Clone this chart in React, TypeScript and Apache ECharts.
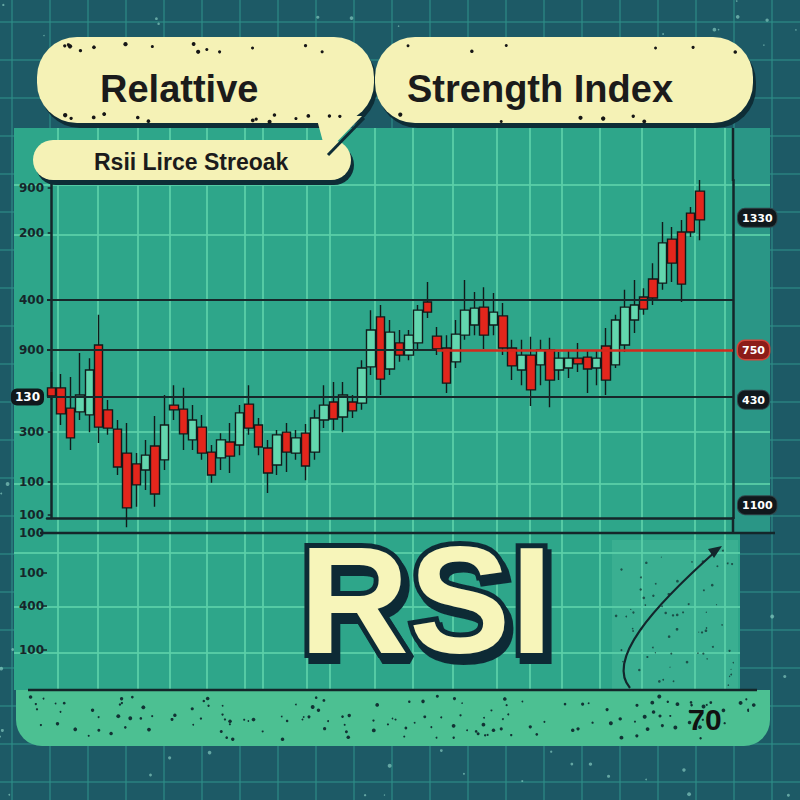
import React, { useEffect, useRef } from 'react';
import * as echarts from 'echarts';

// ---------- data (RSI-like scale, 0..100) ----------
const candleOpen = [
  38.5, 38.5, 32.5, 31.4, 30.5, 51.2, 32.0, 26.3, 19.2, 16.0,
  14.2, 21.3, 17.2, 33.4, 32.2, 23.1, 26.9, 19.5, 17.8, 22.5,
  21.6, 33.7, 27.5, 20.7, 15.7, 25.4, 19.2, 25.1, 19.5, 29.0,
  34.3, 29.9, 34.3, 34.0, 44.7, 59.5, 44.1, 51.8, 48.2, 51.8,
  63.9, 53.8, 50.3, 46.2, 54.1, 57.1, 62.4, 57.1, 59.8, 50.3,
  43.8, 48.2, 45.3, 49.7, 43.8, 44.4, 47.3, 47.6, 44.4, 50.9,
  45.3, 51.2, 58.6, 65.4, 70.7, 69.5, 82.5, 84.6, 90.2, 96.7,
];
const candleClose = [
  36.1, 30.8, 23.7, 36.4, 43.8, 26.9, 26.6, 15.1, 3.0, 9.8,
  18.6, 7.1, 27.5, 32.0, 24.9, 29.0, 19.2, 12.7, 23.1, 18.3,
  31.1, 26.6, 21.0, 13.3, 24.6, 19.5, 23.7, 15.4, 29.6, 33.4,
  29.3, 36.4, 31.7, 44.4, 55.6, 41.1, 55.0, 48.2, 54.1, 61.5,
  60.9, 50.0, 39.9, 54.4, 61.5, 62.1, 54.1, 60.9, 50.3, 45.0,
  48.2, 37.9, 49.7, 40.8, 47.3, 47.3, 45.6, 44.1, 47.3, 40.8,
  58.6, 62.4, 63.0, 61.8, 65.1, 81.4, 75.4, 69.2, 84.6, 88.2,
];
const candleLow = [
  34.9, 27.5, 20.1, 29.0, 25.4, 22.2, 24.6, 12.7, -2.7, 3.3,
  8.3, 3.3, 14.2, 29.0, 20.1, 20.1, 17.2, 10.4, 14.2, 13.3,
  18.6, 24.6, 18.6, 7.4, 12.7, 13.6, 17.2, 11.2, 17.2, 26.6,
  26.0, 25.4, 29.6, 32.0, 42.3, 36.4, 42.3, 46.2, 46.7, 49.7,
  59.2, 48.2, 37.0, 44.4, 52.7, 54.1, 50.0, 54.1, 48.2, 40.8,
  39.3, 33.1, 39.3, 32.8, 40.8, 41.4, 43.2, 37.0, 39.3, 36.4,
  44.4, 49.1, 54.7, 60.1, 63.0, 67.5, 69.8, 63.9, 83.1, 82.2,
];
const candleHigh = [
  43.2, 42.6, 41.7, 48.8, 47.3, 60.1, 34.9, 29.0, 28.1, 19.2,
  23.1, 30.2, 36.4, 39.3, 38.5, 33.4, 30.5, 21.6, 25.1, 28.1,
  33.4, 39.3, 29.6, 23.1, 26.0, 28.1, 26.0, 27.8, 32.0, 39.3,
  40.2, 40.2, 36.4, 46.7, 61.5, 63.0, 58.6, 55.6, 55.6, 63.0,
  69.8, 56.5, 54.1, 58.6, 70.4, 66.9, 68.3, 66.6, 63.6, 52.7,
  52.7, 53.6, 52.7, 53.3, 49.1, 49.7, 51.8, 49.7, 49.7, 56.2,
  60.1, 67.5, 70.4, 68.0, 75.4, 87.6, 86.1, 88.2, 92.0, 100.0,
];
const slotCount = 73;

const blackLevels = [64.5, 35.8];
const splitLevel = 49.7;
const splitAtSlot = 41;

const leftTickValues = [97.6, 84.3, 64.5, 49.7, 35.8, 25.4, 10.7, 1];
const leftTickLabels = ['900', '200', '400', '900', '130', '300', '100', '100'];
const leftTickBadge = [false, false, false, false, true, false, false, false];

const rightTickValues = [88.8, 49.7, 35.0, 3.8];
const rightTickLabels = ['1330', '750', '430', '1100'];
const rightTickStyle = ['dark', 'red', 'dark', 'dark'];

const lowerTickValues = [100, 74.5, 53.5, 25.5];
const lowerTickLabels = ['100', '100', '400', '100'];

const titleLeft = 'Relattive';
const titleRight = 'Strength Index';
const subTitle = 'Rsii Lirce Streoak';
const bigLabel = 'RSI';
const cornerLabel = '70';

// decorative grid positions (picture layout)
const panelVLines = [58, 98, 138, 170, 207, 245, 263, 307, 330, 375, 413, 453, 497, 530, 562, 600, 642, 695, 725];
const panelHLines = [185, 235, 432, 484, 553, 607, 653];

function nearest(vals: number[], v: number) {
  let best = 0;
  vals.forEach((x, i) => {
    if (Math.abs(x - v) < Math.abs(vals[best] - v)) best = i;
  });
  return best;
}

function seeded(seed: number) {
  let s = seed;
  return () => {
    s = (s * 16807) % 2147483647;
    return s / 2147483647;
  };
}

function buildGraphics() {
  const els: any[] = [];
  // outer grid
  for (let x = 12; x < 800; x += 38) {
    els.push({ type: 'line', z: -40, shape: { x1: x, y1: 0, x2: x, y2: 800 }, style: { stroke: '#2f8f88', lineWidth: 1.5, opacity: 0.75 } });
  }
  for (let y = 22; y < 800; y += 38) {
    els.push({ type: 'line', z: -40, shape: { x1: 0, y1: y, x2: 800, y2: y }, style: { stroke: '#2f8f88', lineWidth: 1.5, opacity: 0.75 } });
  }
  // speckles on dark background
  const r1 = seeded(7);
  for (let i = 0; i < 260; i++) {
    const x = r1() * 800;
    const y = r1() * 800;
    const inPanel = x > 14 && x < 770 && y > 128 && y < 745;
    if (inPanel) continue;
    els.push({ type: 'circle', z: -39, shape: { cx: x, cy: y, r: 0.6 + r1() * 1.4 }, style: { fill: '#9fe6d6', opacity: 0.55 } });
  }
  // panel areas
  els.push({ type: 'rect', z: -30, shape: { x: 14, y: 128, width: 720, height: 405 }, style: { fill: '#2ea68a' } });
  els.push({ type: 'rect', z: -30, shape: { x: 733, y: 128, width: 37, height: 405 }, style: { fill: '#2a9686' } });
  els.push({ type: 'rect', z: -30, shape: { x: 14, y: 533, width: 726, height: 157 }, style: { fill: '#2ea68a' } });
  els.push({ type: 'rect', z: -29, shape: { x: 612, y: 540, width: 126, height: 150 }, style: { fill: '#3aaf91' } });
  els.push({ type: 'rect', z: -30, shape: { x: 16, y: 690, width: 754, height: 56, r: [0, 0, 26, 26] }, style: { fill: '#4cc092' } });
  // panel grid
  panelVLines.forEach((x) => {
    els.push({ type: 'line', z: -25, shape: { x1: x, y1: 128, x2: x, y2: 690 }, style: { stroke: '#5cd0a8', lineWidth: 2, opacity: 0.85 } });
  });
  panelHLines.forEach((y) => {
    els.push({ type: 'line', z: -25, shape: { x1: 14, y1: y, x2: y < 533 ? 770 : 740, y2: y }, style: { stroke: '#5cd0a8', lineWidth: 2, opacity: 0.85 } });
  });
  // dots on band and right lighter area
  const r2 = seeded(99);
  for (let i = 0; i < 150; i++) {
    const x = 30 + r2() * 725;
    const y = 696 + r2() * 44;
    els.push({ type: 'circle', z: -24, shape: { cx: x, cy: y, r: 0.8 + r2() * 1.2 }, style: { fill: '#123234' } });
  }
  for (let i = 0; i < 70; i++) {
    const x = 615 + r2() * 120;
    const y = 548 + r2() * 138;
    els.push({ type: 'circle', z: -24, shape: { cx: x, cy: y, r: 0.5 + r2() * 0.9 }, style: { fill: '#153a38', opacity: 0.8 } });
  }
  // structural dark lines
  const dark = '#14262a';
  els.push({ type: 'line', z: 1, shape: { x1: 40, y1: 533, x2: 775, y2: 533 }, style: { stroke: dark, lineWidth: 2.5 } });
  els.push({ type: 'line', z: 1, shape: { x1: 28, y1: 690, x2: 757, y2: 690 }, style: { stroke: dark, lineWidth: 2.5 } });
  els.push({ type: 'line', z: 1, shape: { x1: 733, y1: 128, x2: 733, y2: 181 }, style: { stroke: dark, lineWidth: 2.5 } });
  els.push({ type: 'line', z: 1, shape: { x1: 733, y1: 517, x2: 733, y2: 533 }, style: { stroke: dark, lineWidth: 2.5 } });

  // speech bubbles
  const yellow = '#f5f2b6';
  const shadow = '#0e2d36';
  const bubble = (x: number, y: number, w: number, h: number, r: number) => {
    els.push({ type: 'rect', z: 10, shape: { x: x + 3, y: y + 5, width: w, height: h, r }, style: { fill: shadow } });
    els.push({ type: 'rect', z: 11, shape: { x, y, width: w, height: h, r }, style: { fill: yellow } });
  };
  bubble(37, 37, 337, 86, 40);
  bubble(375, 37, 378, 86, 40);
  bubble(33, 140, 318, 40, 20);
  els.push({ type: 'polygon', z: 12, shape: { points: [[316, 116], [362, 116], [326, 153]] }, style: { fill: yellow } });
  els.push({ type: 'polyline', z: 12, shape: { points: [[364, 118], [328, 155]] }, style: { stroke: shadow, lineWidth: 3 } });
  // speckle dots on bubbles
  const r3 = seeded(2024);
  [[60, 360, 44], [60, 350, 114], [390, 740, 44], [390, 740, 114]].forEach(([a, b, yy], k) => {
    const n = k < 2 ? 14 : 6;
    for (let i = 0; i < n; i++) {
      els.push({ type: 'circle', z: 13, shape: { cx: a + r3() * (b - a), cy: yy + r3() * 8, r: 1.4 + r3() * 0.8 }, style: { fill: '#161616' } });
    }
  });
  els.push({ type: 'text', z: 14, x: 100, y: 89, style: { text: titleLeft, font: 'bold 38px "Liberation Sans", Arial, sans-serif', fill: '#1b1b1b', verticalAlign: 'middle' } });
  els.push({ type: 'text', z: 14, x: 407, y: 89, style: { text: titleRight, font: 'bold 38px "Liberation Sans", Arial, sans-serif', fill: '#1b1b1b', verticalAlign: 'middle' } });
  els.push({ type: 'text', z: 14, x: 94, y: 162, style: { text: subTitle, font: 'bold 23px "Liberation Sans", Arial, sans-serif', fill: '#1b1b1b', verticalAlign: 'middle' } });

  // big RSI with heavy outline and offset shadow
  els.push({
    type: 'text', z: 15, x: 426, y: 600,
    style: {
      text: bigLabel, font: 'bold 152px "Liberation Sans", Arial, sans-serif',
      fill: '#f7f5ba', stroke: '#0f2a36', lineWidth: 10, strokeFirst: true,
      align: 'center', verticalAlign: 'middle',
      textShadowColor: '#0f2a36', textShadowOffsetX: 4, textShadowOffsetY: 6, textShadowBlur: 1,
      shadowColor: '#0f2a36', shadowOffsetX: 4, shadowOffsetY: 6, shadowBlur: 1,
    },
  });

  // arrow
  els.push({ type: 'bezierCurve', z: 14, shape: { x1: 630, y1: 688, cpx1: 606, cpy1: 660, cpx2: 652, cpy2: 608, x2: 716, y2: 551 }, style: { stroke: '#13262c', lineWidth: 2.2, fill: null } });
  els.push({ type: 'polygon', z: 14, shape: { points: [[722, 546], [714, 558], [708, 549]] }, style: { fill: '#13262c' } });

  // corner label
  els.push({ type: 'text', z: 14, x: 705, y: 719, style: { text: cornerLabel, font: 'bold 30px "Liberation Sans", Arial, sans-serif', fill: '#111', align: 'center', verticalAlign: 'middle' } });
  return els;
}

const labelFont = { fontFamily: '"DejaVu Sans", sans-serif', fontWeight: 'bold' as const, fontSize: 12 };

const option: any = {
  animation: false,
  backgroundColor: '#1d5a66',
  graphic: { elements: buildGraphics() },
  grid: [
    { left: 47, right: 67, top: 180, bottom: 282 },
    { left: 47, right: 65, top: 533, bottom: 110 },
  ],
  xAxis: [
    {
      gridIndex: 0, type: 'value', min: -0.5, max: slotCount - 0.5,
      axisLine: { show: true, onZero: false, lineStyle: { color: '#14262a', width: 2.5 } },
      axisTick: { show: false }, axisLabel: { show: false }, splitLine: { show: false },
    },
    { gridIndex: 1, type: 'value', min: 0, max: 1, show: false },
  ],
  yAxis: [
    {
      gridIndex: 0, type: 'value', min: 0, max: 100, position: 'left',
      axisLine: { show: true, lineStyle: { color: '#14262a', width: 2.5 } },
      axisTick: { show: true, customValues: leftTickValues, length: 4, lineStyle: { color: '#14262a', width: 1.5 } },
      axisLabel: {
        customValues: leftTickValues, margin: 3,
        formatter: (v: number) => {
          const i = nearest(leftTickValues, v);
          return leftTickBadge[i] ? `{badge|${leftTickLabels[i]}}` : `{plain|${leftTickLabels[i]}}`;
        },
        rich: {
          plain: { ...labelFont, color: '#16262a' },
          badge: { ...labelFont, color: '#ffffff', backgroundColor: '#10181c', borderRadius: 6, padding: [3, 4, 2, 4] },
        },
      },
      splitLine: { show: false },
    },
    {
      gridIndex: 0, type: 'value', min: 0, max: 100, position: 'right',
      axisLine: { show: true, lineStyle: { color: '#14262a', width: 2.5 } },
      axisTick: { show: false },
      axisLabel: {
        customValues: rightTickValues, margin: 5,
        formatter: (v: number) => {
          const i = nearest(rightTickValues, v);
          return `{${rightTickStyle[i]}|${rightTickLabels[i]}}`;
        },
        rich: {
          dark: { ...labelFont, fontSize: 11, color: '#ffffff', backgroundColor: '#10181c', borderColor: '#30444a', borderWidth: 1, borderRadius: 7, padding: [4, 4, 3, 4] },
          red: { ...labelFont, fontSize: 11, color: '#ffffff', backgroundColor: '#8c1c18', borderColor: '#d0463a', borderWidth: 1.5, borderRadius: 7, padding: [4, 4, 3, 4] },
        },
      },
      splitLine: { show: false },
    },
    {
      gridIndex: 1, type: 'value', min: 0, max: 100, position: 'left',
      axisLine: { show: false },
      axisTick: { show: true, customValues: lowerTickValues, length: 4, lineStyle: { color: '#14262a', width: 1.5 } },
      axisLabel: {
        customValues: lowerTickValues, margin: 3,
        formatter: (v: number) => lowerTickLabels[nearest(lowerTickValues, v)],
        ...labelFont, color: '#16262a',
      },
      splitLine: { show: false },
    },
  ],
  series: [
    {
      type: 'line', xAxisIndex: 0, yAxisIndex: 0, data: [], z: 1, silent: true,
      markLine: {
        silent: true, symbol: ['none', 'none'], label: { show: false },
        lineStyle: { color: '#17272a', width: 2, type: 'solid' },
        data: [
          ...blackLevels.map((v) => ({ yAxis: v })),
          [
            { coord: [-0.5, splitLevel], lineStyle: { color: '#1a2a2a', width: 2, type: 'solid' } },
            { coord: [splitAtSlot, splitLevel], lineStyle: { color: '#1a2a2a', width: 2, type: 'solid' } },
          ],
          [
            { coord: [splitAtSlot, splitLevel], lineStyle: { color: '#d4291d', width: 2.5, type: 'solid' } },
            { coord: [slotCount - 0.5, splitLevel], lineStyle: { color: '#d4291d', width: 2.5, type: 'solid' } },
          ],
        ],
      },
    },
    {
      type: 'candlestick', xAxisIndex: 0, yAxisIndex: 0, z: 3, clip: false,
      barWidth: 9,
      data: candleOpen.map((o, i) => [i, o, candleClose[i], candleLow[i], candleHigh[i]]),
      itemStyle: {
        color: '#62d6ae', color0: '#e3261c',
        borderColor: '#111a1a', borderColor0: '#111a1a', borderWidth: 1.4,
      },
    },
  ],
};

export default function App() {
  const ref = useRef<HTMLDivElement>(null);
  useEffect(() => {
    const chart = echarts.init(ref.current as HTMLDivElement, null, { renderer: 'svg' });
    chart.setOption(option);
    return () => chart.dispose();
  }, []);
  return <div ref={ref} style={{ position: 'fixed', left: 0, top: 0, width: 800, height: 800 }} />;
}
